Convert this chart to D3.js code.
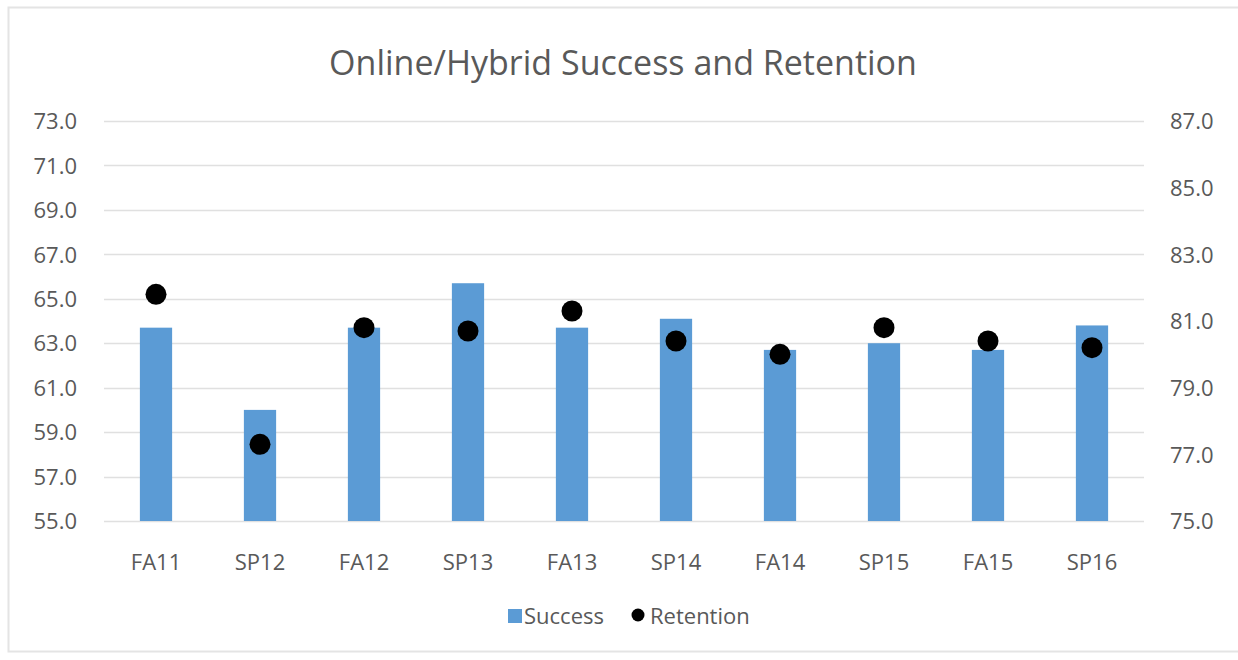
<!DOCTYPE html>
<html>
<head>
<meta charset="utf-8">
<script src="https://cdn.jsdelivr.net/npm/d3@7"></script>
<style>
  body { margin: 0; background: #fff; }
  svg text { font-family: "Open Sans", "Noto Sans", sans-serif; fill: #595959; }
</style>
</head>
<body>
<svg id="chart" width="1238" height="660"></svg>
<script>
// Data
var terms = ['FA11', 'SP12', 'FA12', 'SP13', 'FA13', 'SP14', 'FA14', 'SP15', 'FA15', 'SP16']
var success = [63.7, 60.0, 63.7, 65.7, 63.7, 64.1, 62.7, 63.0, 62.7, 63.8]
var retention = [81.8, 77.3, 80.8, 80.7, 81.3, 80.4, 80.0, 80.8, 80.4, 80.2]
var leftTicks = [55, 57, 59, 61, 63, 65, 67, 69, 71, 73]
var rightTicks = [75, 77, 79, 81, 83, 85, 87]
var title = 'Online/Hybrid Success and Retention'

var svg = d3.select('#chart')

// faint frame around the chart
svg.append('rect')
  .attr('x', 8.5).attr('y', 7.5)
  .attr('width', 1240).attr('height', 644)
  .attr('fill', 'none')
  .attr('stroke', '#e4e4e4')
  .attr('stroke-width', 2)

// plot area (window.top is taken, so no plain "top")
var plotLeft = 104, plotRight = 1144, plotTop = 121, plotBottom = 521

var x = d3.scaleBand().domain(terms).range([plotLeft, plotRight]).paddingInner(0.69).paddingOuter(0.345)
var yL = d3.scaleLinear().domain([55, 73]).range([plotBottom, plotTop])
var yR = d3.scaleLinear().domain([75, 87]).range([plotBottom, plotTop])

// title
svg.append('text')
  .attr('x', 623).attr('y', 75)
  .attr('text-anchor', 'middle')
  .style('font-size', '34px')
  .text(title)

// gridlines
svg.append('g')
  .selectAll('line')
  .data(leftTicks)
  .enter()
  .append('line')
  .attr('x1', plotLeft).attr('x2', plotRight)
  .attr('y1', d => Math.round(yL(d)) + 0.5)
  .attr('y2', d => Math.round(yL(d)) + 0.5)
  .attr('stroke', '#e0e0e0')
  .attr('stroke-width', 1.5)

// left axis
var axisL = svg.append('g')
  .attr('transform', 'translate(' + (plotLeft - 24) + ',0)')
  .call(d3.axisLeft(yL).tickValues(leftTicks).tickFormat(d3.format('.1f')).tickSize(0))
axisL.select('.domain').remove()
axisL.selectAll('text').style('font-size', '22px').attr('dy', '0.35em')

// right axis
var axisR = svg.append('g')
  .attr('transform', 'translate(' + (plotRight + 23) + ',0)')
  .call(d3.axisRight(yR).tickValues(rightTicks).tickFormat(d3.format('.1f')).tickSize(0))
axisR.select('.domain').remove()
axisR.selectAll('text').style('font-size', '22px').attr('dy', '0.35em')

// bottom axis
var axisB = svg.append('g')
  .attr('transform', 'translate(0,' + (plotBottom + 30) + ')')
  .call(d3.axisBottom(x).tickSize(0))
axisB.select('.domain').remove()
axisB.selectAll('text').style('font-size', '22px')

// bars
svg.append('g')
  .selectAll('rect')
  .data(success)
  .enter()
  .append('rect')
  .attr('x', (d, i) => x(terms[i]))
  .attr('width', x.bandwidth())
  .attr('y', d => yL(d))
  .attr('height', d => yL(55) - yL(d))
  .attr('fill', '#5b9bd5')

// retention dots
svg.append('g')
  .selectAll('circle')
  .data(retention)
  .enter()
  .append('circle')
  .attr('cx', (d, i) => x(terms[i]) + x.bandwidth() / 2)
  .attr('cy', d => yR(d))
  .attr('r', 10.5)
  .attr('fill', '#000')

// legend
var legend = svg.append('g').attr('transform', 'translate(0,616)')
legend.append('rect')
  .attr('x', 508).attr('y', -7)
  .attr('width', 14).attr('height', 14)
  .attr('fill', '#5b9bd5')
legend.append('text')
  .attr('x', 524).attr('y', 0).attr('dy', '0.35em')
  .style('font-size', '22px')
  .text('Success')
legend.append('circle')
  .attr('cx', 638).attr('cy', -1)
  .attr('r', 6.5)
  .attr('fill', '#000')
legend.append('text')
  .attr('x', 650).attr('y', 0).attr('dy', '0.35em')
  .style('font-size', '22px')
  .text('Retention')
</script>
</body>
</html>
